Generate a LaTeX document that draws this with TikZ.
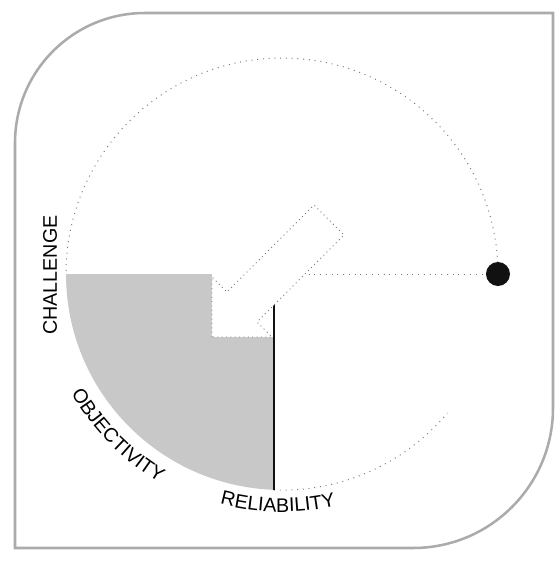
\documentclass[tikz,border=0pt]{standalone}
\usepackage{fontspec}
\setsansfont{Liberation Sans}
\usepackage{tikz}
\usetikzlibrary{
arrows.meta,
positioning,
calc,
decorations.text
}
\definecolor{FrameGray}{HTML}{ABABAB}
\definecolor{ShadeGray}{HTML}{C8C8C8}
\definecolor{DotGray}{HTML}{7A7A7A}
\definecolor{InkBlack}{HTML}{111111}

\begin{document}
\begin{tikzpicture}[x=0.025cm,y=0.025cm,every node/.style={font=\sffamily\fontsize{14}{16}\selectfont},
    faint/.style={draw=DotGray, line width=0.7pt, dash pattern=on 0.7pt off 3.4pt},
    outline/.style={draw=DotGray, fill=white, line width=0.6pt, dash pattern=on 0.7pt off 2.4pt},
    curved/.style={decorate, decoration={text along path, text align=center, text={|\sffamily\fontsize{14}{16}\selectfont|#1}}}]
        \useasboundingbox (-282,-287) rectangle (278,274);
        \draw[FrameGray, line width=1.8pt] (-267,-274) -- (-267,131) arc[start angle=180,end angle=90,radius=130] -- (271,261) -- (271,-134) arc[start angle=0,end angle=-90,radius=140] -- cycle;
        \coordinate (hub) at (-8,0);
        \coordinate (foot) at (-8,-216);
        \fill[ShadeGray] (-70,0) -- (-216,0) arc[start angle=180,end angle=267.9,radius=216] -- (-8,-63) -- (-70,-63) -- cycle;
        \draw[faint] (0:216) arc[start angle=0,end angle=180,radius=216];
        \draw[faint] (foot) arc[start angle=267.9,end angle=320,radius=216];
        \node[circle, fill=InkBlack, minimum size=0.6cm, inner sep=0pt] (dot) at (216,0) {};
        \draw[faint] (hub) -- (dot);
        \draw[InkBlack, line width=0.9pt] (hub) -- (foot);
        \path[outline] (-70,-63) -- (-70,-3) -- (-55,-18) -- (32,69) -- (62,39) -- (-25,-48) -- (-10,-63) -- cycle;
        \node[rotate=90] (challenge) at (-232,-1) {CHALLENGE};
        \path[curved=OBJECTIVITY] (204.5:242) arc[start angle=204.5,end angle=244.5,radius=242];
        \path[curved=RELIABILITY] (249:238) arc[start angle=249,end angle=289,radius=238];
    \end{tikzpicture}
\end{document}
